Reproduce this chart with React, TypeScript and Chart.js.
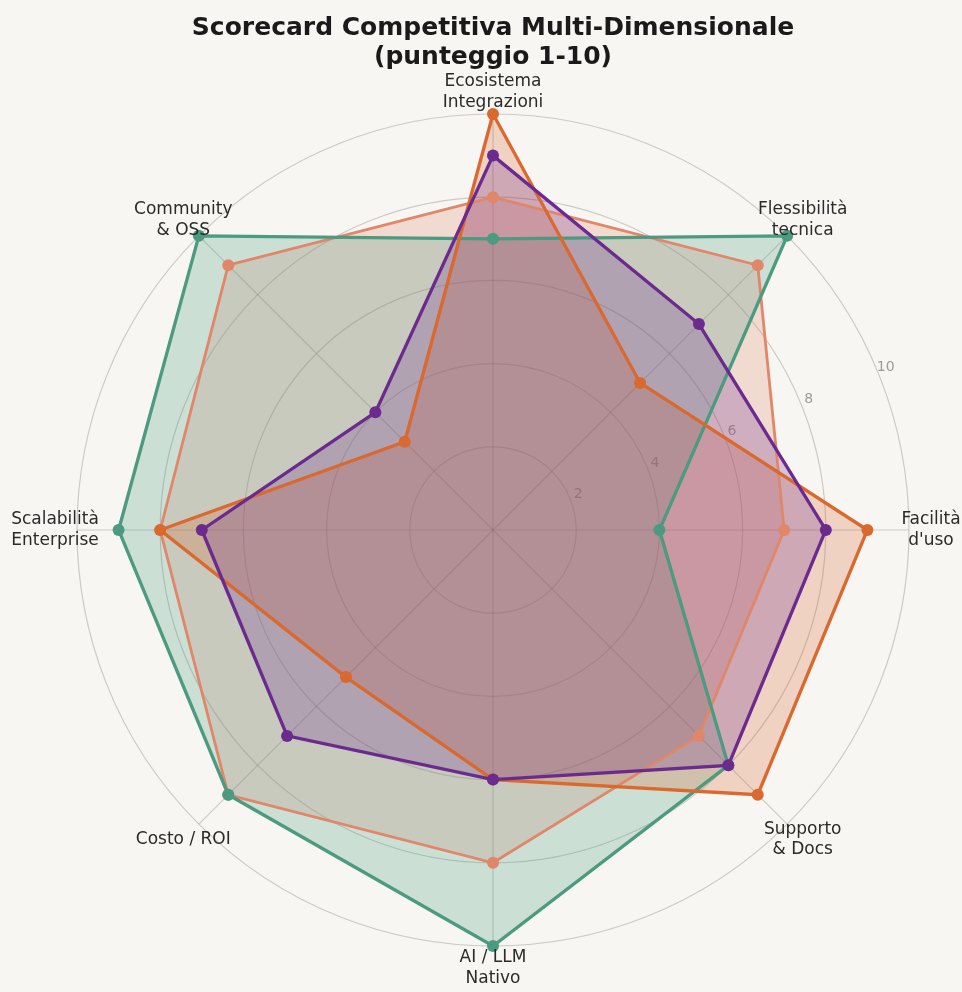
import React, { useEffect, useRef } from "react";
import { Chart, registerables } from "chart.js";

Chart.register(...registerables);

const categories: string[][] = [
  ["Ecosistema", "Integrazioni"],
  ["Flessibilità", "tecnica"],
  ["Facilità", "d'uso"],
  ["Supporto", "& Docs"],
  ["AI / LLM", "Nativo"],
  ["Costo / ROI"],
  ["Scalabilità", "Enterprise"],
  ["Community", "& OSS"],
];

const seriesNames = ["Viola", "Arancio", "Verde", "Salmone"];
const purpleValues = [9, 7, 8, 8, 6, 7, 7, 4];
const orangeValues = [10, 5, 9, 9, 6, 5, 8, 3];
const greenValues = [7, 10, 4, 8, 10, 9, 9, 10];
const salmonValues = [8, 9, 7, 7, 8, 9, 8, 9];

const tickValues = [2, 4, 6, 8, 10];
const titleLines = ["Scorecard Competitiva Multi-Dimensionale", "(punteggio 1-10)"];

const COLORS = {
  purple: "#6a2a8e",
  orange: "#d9692e",
  green: "#4c9a7f",
  salmon: "#e0876a",
};

function hexA(hex: string, a: number) {
  const r = parseInt(hex.slice(1, 3), 16);
  const g = parseInt(hex.slice(3, 5), 16);
  const b = parseInt(hex.slice(5, 7), 16);
  return `rgba(${r},${g},${b},${a})`;
}

const BG = "#f7f6f2";
const FONT = "'DejaVu Sans', sans-serif";

export default function App() {
  const ref = useRef<HTMLCanvasElement | null>(null);

  useEffect(() => {
    if (!ref.current) return;

    const bgPlugin = {
      id: "bg",
      beforeDraw(chart: any) {
        const { ctx, width, height } = chart;
        ctx.save();
        ctx.fillStyle = BG;
        ctx.fillRect(0, 0, width, height);
        ctx.restore();
      },
    };

    const tickPlugin = {
      id: "rticks",
      beforeDatasetsDraw(chart: any) {
        const s = chart.scales.r;
        const ctx = chart.ctx;
        const ang = (22.5 * Math.PI) / 180;
        ctx.save();
        ctx.font = `14px ${FONT}`;
        ctx.fillStyle = "#9b9b9b";
        ctx.textAlign = "center";
        ctx.textBaseline = "middle";
        tickValues.forEach((v) => {
          const d = s.getDistanceFromCenterForValue(v) + 9;
          ctx.fillText(String(v), s.xCenter + d * Math.cos(ang), s.yCenter - d * Math.sin(ang));
        });
        ctx.restore();
      },
    };

    const labelPlugin = {
      id: "plabels",
      afterDatasetsDraw(chart: any) {
        const s = chart.scales.r;
        const ctx = chart.ctx;
        ctx.save();
        ctx.font = `17px ${FONT}`;
        ctx.fillStyle = "#2b2b2b";
        ctx.textAlign = "center";
        ctx.textBaseline = "middle";
        const lh = 20.5;
        categories.forEach((lines, i) => {
          const p = s.getPointPosition(i, s.drawingArea + 22);
          const y0 = p.y - ((lines.length - 1) * lh) / 2;
          lines.forEach((t, k) => ctx.fillText(t, p.x, y0 + k * lh));
        });
        ctx.restore();
      },
    };

    const lineDs = (label: string, data: number[], color: string, width: number) => ({
      label,
      data,
      borderColor: color,
      backgroundColor: "rgba(0,0,0,0)",
      borderWidth: width,
      pointRadius: 6,
      pointHoverRadius: 6,
      pointBackgroundColor: color,
      pointBorderColor: color,
      pointBorderWidth: 0,
      fill: false,
    });

    const fillDs = (label: string, data: number[], color: string) => ({
      label: label + " (area)",
      data,
      borderColor: "rgba(0,0,0,0)",
      backgroundColor: hexA(color, 0.25),
      borderWidth: 0,
      pointRadius: 0,
      pointHoverRadius: 0,
      fill: true,
    });

    const chart = new Chart(ref.current, {
      type: "radar",
      data: {
        labels: categories,
        datasets: [
          lineDs(seriesNames[0], purpleValues, COLORS.purple, 3.3),
          lineDs(seriesNames[1], orangeValues, COLORS.orange, 3.3),
          lineDs(seriesNames[2], greenValues, COLORS.green, 3.3),
          lineDs(seriesNames[3], salmonValues, COLORS.salmon, 2.8),
          fillDs(seriesNames[0], purpleValues, COLORS.purple),
          fillDs(seriesNames[1], orangeValues, COLORS.orange),
          fillDs(seriesNames[2], greenValues, COLORS.green),
          fillDs(seriesNames[3], salmonValues, COLORS.salmon),
        ],
      },
      options: {
        animation: false,
        responsive: false,
        maintainAspectRatio: false,
        layout: { padding: { left: 77, right: 53, top: 0, bottom: 46 } },
        plugins: {
          legend: { display: false },
          tooltip: { enabled: false },
          title: {
            display: true,
            text: titleLines,
            color: "#1a1a1a",
            font: { family: FONT, size: 25, weight: "bold", lineHeight: 1.16 },
            padding: { top: 14, bottom: 42 },
          },
        },
        scales: {
          r: {
            min: 0,
            max: 10,
            ticks: { stepSize: 2, display: false },
            grid: { circular: true, color: "rgba(120,120,120,0.35)", lineWidth: 1.2 },
            angleLines: { display: true, color: "rgba(120,120,120,0.35)", lineWidth: 1.2 },
            pointLabels: { display: false },
          },
        },
      },
      plugins: [bgPlugin, tickPlugin, labelPlugin],
    });

    return () => chart.destroy();
  }, []);

  return (
    <div style={{ position: "absolute", left: 0, top: 0, width: 962, height: 992, background: BG }}>
      <canvas ref={ref} width={962} height={992} style={{ display: "block" }} />
    </div>
  );
}
